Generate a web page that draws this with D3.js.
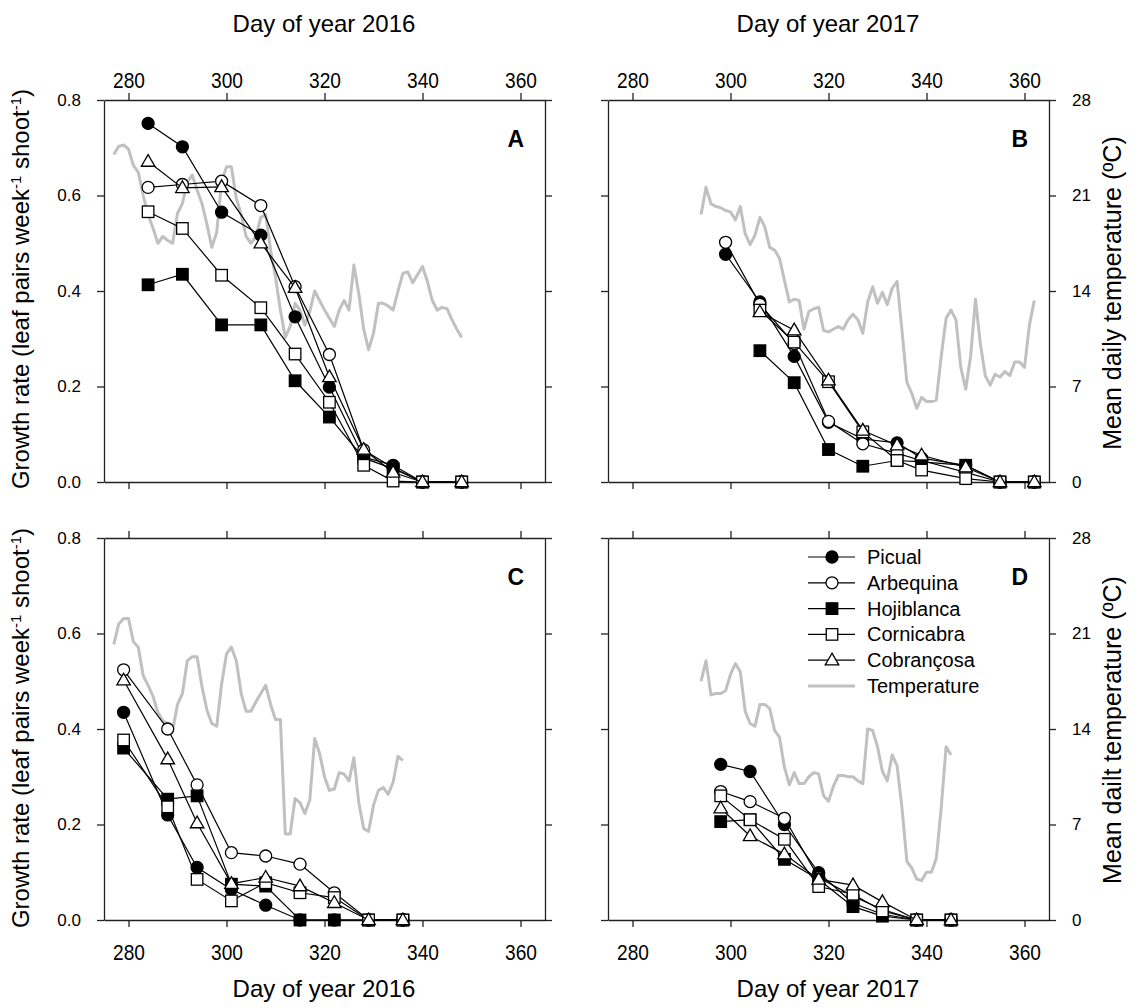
<!DOCTYPE html>
<html>
<head>
<meta charset="utf-8">
<script src="https://cdn.jsdelivr.net/npm/d3@7"></script>
<style>
  body { margin: 0; background: #fff; }
  svg text { font-family: "Liberation Sans", Arial, sans-serif; fill: #000; }
</style>
</head>
<body>
<svg id="chart" width="1140" height="1008"></svg>
<script>
// Cultivars, in drawing order
const cultivars = ['Picual', 'Arbequina', 'Hojiblanca', 'Cornicabra', 'Cobrançosa'];

// Panel A (2016, upper)
const daysA = [284, 291, 299, 307, 314, 321, 328, 334, 340, 348];
const picualA = [0.751, 0.702, 0.565, 0.517, 0.346, 0.199, 0.052, 0.035, 0, 0];
const arbequinaA = [0.617, 0.623, 0.63, 0.579, 0.409, 0.267, 0.067, 0.03, 0, 0];
const hojiblancaA = [0.413, 0.435, 0.329, 0.329, 0.212, 0.136, 0.05, 0.028, 0, 0];
const cornicabraA = [0.566, 0.531, 0.433, 0.365, 0.268, 0.167, 0.035, 0.002, 0, 0];
const cobrancosaA = [0.671, 0.616, 0.618, 0.5, 0.407, 0.22, 0.068, 0.02, 0, 0];
const tempStartA = 277;
const tempA = [24.0, 24.6, 24.7, 24.4, 23.2, 22.7, 21.0, 19.6, 18.6, 17.5, 18.0, 17.7, 17.5, 19.7, 20.4,
  22.0, 22.5, 21.4, 20.4, 18.9, 17.2, 18.3, 22.0, 23.1, 23.1, 20.8, 19.6, 18.0, 17.5, 18.0, 19.4, 19.6,
  17.0, 15.0, 12.6, 10.6, 11.4, 13.1, 12.6, 11.5, 12.5, 14.0, 13.3, 12.6, 12.0, 11.4, 12.6, 13.3, 12.6,
  15.9, 13.8, 11.2, 9.7, 10.9, 13.1, 13.1, 12.9, 12.6, 14.0, 15.3, 15.4, 14.6, 15.2, 15.8, 14.7, 13.3,
  12.6, 12.8, 12.7, 11.9, 11.2, 10.6];

// Panel B (2017, upper)
const daysB = [299, 306, 313, 320, 327, 334, 339, 348, 355, 362];
const picualB = [0.477, 0.377, 0.263, 0.125, 0.09, 0.082, 0.05, 0.035, 0, 0];
const arbequinaB = [0.502, 0.372, 0.29, 0.127, 0.08, 0.06, 0.045, 0.02, 0, 0];
const hojiblancaB = [null, 0.275, 0.208, 0.068, 0.033, 0.045, 0.042, 0.035, 0, 0];
const cornicabraB = [null, 0.36, 0.293, 0.21, 0.105, 0.045, 0.025, 0.007, 0, 0];
const cobrancosaB = [null, 0.356, 0.318, 0.213, 0.108, 0.077, 0.056, 0.031, 0, 0];
const tempStartB = 294;
const tempB = [19.6, 21.6, 20.4, 20.2, 20.1, 19.9, 19.8, 19.2, 20.2, 18.2, 17.4, 18.1, 19.4, 18.7, 17.2,
  17.0, 16.4, 14.8, 13.2, 13.4, 13.3, 11.2, 12.5, 12.7, 12.8, 11.1, 11.0, 11.2, 11.4, 11.2, 11.9, 12.3,
  11.9, 10.9, 13.2, 14.3, 13.1, 13.9, 13.0, 14.2, 14.7, 11.1, 7.3, 6.5, 5.4, 6.2, 5.9, 5.9, 6.0, 9.2,
  12.0, 12.6, 11.9, 8.4, 6.8, 9.2, 13.4, 10.1, 7.8, 7.1, 7.9, 7.7, 8.1, 7.8, 8.8, 8.8, 8.4, 11.5, 13.3];

// Panel C (2016, lower)
const daysC = [279, 288, 294, 301, 308, 315, 322, 329, 336];
const picualC = [0.435, 0.22, 0.11, 0.064, 0.031, 0, 0, 0, 0];
const arbequinaC = [0.524, 0.4, 0.283, 0.141, 0.134, 0.117, 0.057, 0, 0];
const hojiblancaC = [0.36, 0.253, 0.26, 0.075, 0.071, 0, 0, 0, 0];
const cornicabraC = [0.377, 0.237, 0.085, 0.04, 0.078, 0.057, 0.047, 0, 0];
const cobrancosaC = [0.502, 0.337, 0.203, 0.076, 0.089, 0.071, 0.036, 0, 0];
const tempStartC = 277;
const tempC = [20.2, 21.7, 22.1, 22.1, 20.4, 20.0, 17.9, 17.2, 16.4, 15.2, 14.6, 14.4, 13.9, 15.8, 16.6,
  19.0, 19.3, 19.3, 17.1, 15.4, 14.4, 14.2, 17.3, 19.5, 20.0, 19.0, 16.6, 15.3, 15.3, 16.0, 16.6, 17.2,
  15.8, 14.7, 14.7, 6.3, 6.3, 8.9, 8.6, 7.8, 8.8, 13.3, 12.2, 10.5, 9.5, 9.6, 10.8, 10.7, 10.2, 11.9,
  8.6, 6.7, 6.5, 8.4, 9.5, 9.7, 9.2, 10.1, 12.0, 11.7];

// Panel D (2017, lower)
const daysD = [298, 304, 311, 318, 325, 331, 338, 345];
const picualD = [0.326, 0.311, 0.2, 0.099, 0.035, 0.012, 0, 0];
const arbequinaD = [0.269, 0.248, 0.213, 0.089, 0.05, 0.022, 0, 0];
const hojiblancaD = [0.206, 0.21, 0.127, 0.085, 0.028, 0.008, 0, 0];
const cornicabraD = [0.26, 0.21, 0.169, 0.07, 0.054, 0.019, 0, 0];
const cobrancosaD = [0.234, 0.176, 0.138, 0.085, 0.073, 0.038, 0, 0];
const tempStartD = 294;
const tempD = [17.5, 19.0, 16.5, 16.6, 16.6, 16.8, 18.0, 18.8, 18.2, 15.3, 14.4, 14.2, 15.8, 15.8, 15.5,
  13.9, 13.4, 11.2, 9.9, 10.8, 10.0, 10.0, 10.5, 10.8, 10.7, 9.1, 8.7, 9.8, 10.6, 10.6, 10.5, 10.5, 10.2,
  10.0, 14.0, 13.9, 12.7, 10.9, 10.2, 12.1, 11.3, 8.2, 4.3, 3.8, 3.0, 2.9, 3.5, 3.5, 4.5, 8.2, 12.7, 12.1];

// Axis ticks
const dayTicks = [280, 300, 320, 340, 360];
const rateTicks = [0, 0.2, 0.4, 0.6, 0.8];
const tempTicks = [0, 7, 14, 21, 28];

const svg = d3.select('#chart');

const W = 441, H = 382;
const panels = [
  { id: 'A', left: 104, top: 100, row: 'top', col: 0, days: daysA,
    series: [picualA, arbequinaA, hojiblancaA, cornicabraA, cobrancosaA], tempStart: tempStartA, temp: tempA },
  { id: 'B', left: 608, top: 100, row: 'top', col: 1, days: daysB,
    series: [picualB, arbequinaB, hojiblancaB, cornicabraB, cobrancosaB], tempStart: tempStartB, temp: tempB },
  { id: 'C', left: 104, top: 538, row: 'bottom', col: 0, days: daysC,
    series: [picualC, arbequinaC, hojiblancaC, cornicabraC, cobrancosaC], tempStart: tempStartC, temp: tempC },
  { id: 'D', left: 608, top: 538, row: 'bottom', col: 1, days: daysD,
    series: [picualD, arbequinaD, hojiblancaD, cornicabraD, cobrancosaD], tempStart: tempStartD, temp: tempD },
];

// marker shapes: filled/open circle, filled/open square, open triangle
function drawMarker(g, i, x, y) {
  let m;
  if (i === 0 || i === 1) {
    m = g.append('circle').attr('cx', x).attr('cy', y).attr('r', 6);
  } else if (i === 2 || i === 3) {
    const s = 11.5;
    m = g.append('rect').attr('x', x - s / 2).attr('y', y - s / 2).attr('width', s).attr('height', s);
  } else {
    const s = 13.5, h = s * Math.sqrt(3) / 2;
    m = g.append('path').attr('d', `M${x},${y - h * 0.6}L${x + s / 2},${y + h * 0.4}L${x - s / 2},${y + h * 0.4}Z`);
  }
  m.attr('fill', i === 0 || i === 2 ? '#000' : '#fff').attr('stroke', '#000').attr('stroke-width', 1.3);
}

const axisStyle = (g) => {
  g.select('.domain').attr('stroke', '#222').attr('stroke-width', 1.3);
  g.selectAll('.tick line').attr('stroke', '#222').attr('stroke-width', 1.3);
  g.attr('font-family', null).attr('font-size', null);
};

panels.forEach((p) => {
  const x = d3.scaleLinear().domain([275, 365]).range([p.left, p.left + W]);
  const y = d3.scaleLinear().domain([0, 0.8]).range([p.top + H, p.top]);
  const yT = d3.scaleLinear().domain([0, 28]).range([p.top + H, p.top]);

  // frame axes
  svg.append('g').attr('transform', `translate(0,${p.top})`)
    .call(d3.axisTop(x).tickValues(dayTicks).tickSize(7).tickSizeOuter(0).tickPadding(5)
      .tickFormat(p.row === 'top' ? d3.format('d') : () => ''))
    .call(axisStyle)
    .selectAll('text').style('font-size', '22px').attr('transform', 'scale(0.87,1)');
  svg.append('g').attr('transform', `translate(0,${p.top + H})`)
    .call(d3.axisBottom(x).tickValues(dayTicks).tickSize(7).tickSizeOuter(0).tickPadding(17)
      .tickFormat(p.row === 'bottom' ? d3.format('d') : () => ''))
    .call(axisStyle)
    .selectAll('text').style('font-size', '22px').attr('transform', 'scale(0.87,1)');
  svg.append('g').attr('transform', `translate(${p.left},0)`)
    .call(d3.axisLeft(y).tickValues(rateTicks).tickSize(7).tickSizeOuter(0).tickPadding(16)
      .tickFormat(p.col === 0 ? d3.format('.1f') : () => ''))
    .call(axisStyle)
    .selectAll('text').style('font-size', '17px');
  svg.append('g').attr('transform', `translate(${p.left + W},0)`)
    .call(d3.axisRight(yT).tickValues(tempTicks).tickSize(7).tickSizeOuter(0).tickPadding(16)
      .tickFormat(p.col === 1 ? d3.format('d') : () => ''))
    .call(axisStyle)
    .selectAll('text').style('font-size', '17px');

  // temperature line
  const tempData = p.temp.map((t, i) => [p.tempStart + i, t]);
  svg.append('path').datum(tempData)
    .attr('fill', 'none').attr('stroke', '#c0c0c0').attr('stroke-width', 3).attr('stroke-linejoin', 'round')
    .attr('d', d3.line().x((d) => x(d[0])).y((d) => yT(d[1])));

  // cultivar series
  p.series.forEach((vals, i) => {
    const pts = p.days.map((d, k) => [d, vals[k]]).filter((d) => d[1] !== null);
    const g = svg.append('g');
    g.append('path').datum(pts)
      .attr('fill', 'none').attr('stroke', '#000').attr('stroke-width', 1.2)
      .attr('d', d3.line().x((d) => x(d[0])).y((d) => y(d[1])));
    pts.forEach((d) => drawMarker(g, i, x(d[0]), y(d[1])));
  });

  // panel letter
  svg.append('text').attr('x', p.left + W - 21).attr('y', p.top + 47)
    .attr('text-anchor', 'end').style('font-size', '23px').style('font-weight', 'bold').text(p.id);
});

// x-axis titles
[['Day of year 2016', 324], ['Day of year 2017', 828]].forEach(([t, cx]) => {
  svg.append('text').attr('x', cx).attr('y', 32).attr('text-anchor', 'middle')
    .style('font-size', '24px').text(t);
  svg.append('text').attr('x', cx).attr('y', 997).attr('text-anchor', 'middle')
    .style('font-size', '24px').text(t);
});

// left y titles
[289, 728].forEach((cy) => {
  const t = svg.append('text')
    .attr('transform', `translate(29,${cy}) rotate(-90)`).attr('text-anchor', 'middle').style('font-size', '24px');
  t.append('tspan').text('Growth rate (leaf pairs week');
  t.append('tspan').attr('baseline-shift', 'super').style('font-size', '15px').text('-1');
  t.append('tspan').text(' shoot');
  t.append('tspan').attr('baseline-shift', 'super').style('font-size', '15px').text('-1');
  t.append('tspan').text(')');
});

// right y titles
[['Mean daily temperature (ºC)', 293], ['Mean dailt temperature (ºC)', 730]].forEach(([s, cy]) => {
  svg.append('text')
    .attr('transform', `translate(1121,${cy}) rotate(-90)`).attr('text-anchor', 'middle')
    .style('font-size', '25px').text(s);
});

// legend in panel D
const legX = 808, legY = 557, legStep = 25.8;
cultivars.forEach((c, i) => {
  const ly = legY + i * legStep;
  const g = svg.append('g');
  g.append('line').attr('x1', legX).attr('x2', legX + 47).attr('y1', ly).attr('y2', ly)
    .attr('stroke', '#000').attr('stroke-width', 1.2);
  drawMarker(g, i, legX + 24, ly);
  g.append('text').attr('x', legX + 59).attr('y', ly + 7).style('font-size', '20px').text(c);
});
{
  const ly = legY + 5 * legStep;
  svg.append('line').attr('x1', legX).attr('x2', legX + 47).attr('y1', ly).attr('y2', ly)
    .attr('stroke', '#c0c0c0').attr('stroke-width', 3);
  svg.append('text').attr('x', legX + 59).attr('y', ly + 7).style('font-size', '20px').text('Temperature');
}
</script>
</body>
</html>
